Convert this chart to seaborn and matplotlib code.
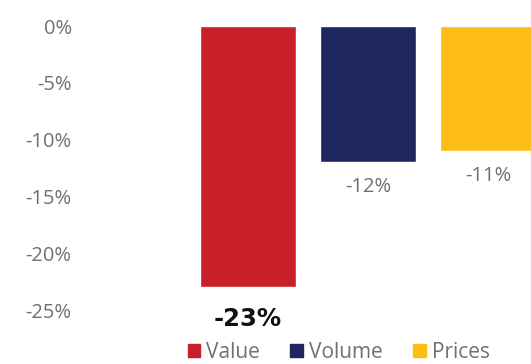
import matplotlib
matplotlib.use("Agg")
import matplotlib.pyplot as plt
import matplotlib.patches as mpatches
import seaborn as sns
import pandas as pd

categories = ["Value", "Volume", "Prices"]
changes = [-23, -12, -11]
colors = ["#C81F2B", "#1F2760", "#FDBD14"]
yticks = [0, -5, -10, -15, -20, -25]

sns.set_theme(style="white")
plt.rcParams["font.family"] = ["Open Sans", "DejaVu Sans"]

df = pd.DataFrame({"category": categories, "change": changes})

fig = plt.figure(figsize=(5.31, 3.64), dpi=100)
ax = fig.add_axes([0.1507, 0.117, 0.8814, 0.827])

sns.barplot(data=df, x="category", y="change", hue="category",
            palette=colors, order=categories, hue_order=categories,
            width=0.8, saturation=1, legend=False, ax=ax)

ax.set_xlim(-1.4, 2.5)
ax.set_ylim(-26, 0.5)
ax.set_yticks(yticks)
ax.set_yticklabels([f"{v}%" for v in yticks], color="#707070", fontsize=14.5)
ax.tick_params(axis="y", length=0, pad=6)
ax.set_xticks([])
ax.set_xlabel("")
ax.set_ylabel("")
for s in ax.spines.values():
    s.set_visible(False)

# value labels under each bar; the headline value is emphasised
for i, v in enumerate(changes):
    if i == 0:
        ax.annotate(f"{v}%", (i, v), xytext=(0, -32), textcoords="offset pixels",
                    ha="center", va="center", fontsize=17.5, fontweight="bold",
                    family=["DejaVu Sans"], color="#111111")
    else:
        ax.annotate(f"{v}%", (i, v), xytext=(0, -25), textcoords="offset pixels",
                    ha="center", va="center", fontsize=14.5, color="#707070")

handles = [mpatches.Patch(color=c, label=l) for c, l in zip(colors, categories)]
leg = fig.legend(handles=handles, loc="center", bbox_to_anchor=(0.638, 0.032),
                 ncol=3, frameon=False, fontsize=15, handlelength=0.6,
                 handleheight=0.6, handletextpad=0.3, columnspacing=1.45,
                 labelcolor="#707070", borderpad=0.1)

fig.savefig("out.png", dpi=100)
